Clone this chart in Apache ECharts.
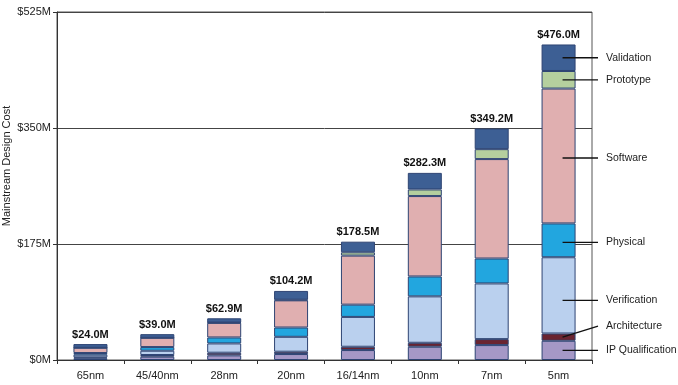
<!DOCTYPE html>
<html>
<head>
<meta charset="utf-8">
<script src="https://cdn.jsdelivr.net/npm/echarts@6/dist/echarts.min.js"></script>
<style>
html,body{margin:0;padding:0;background:#fff;}
#c{width:678px;height:385px;}
</style>
</head>
<body>
<div id="c"></div>
<script>
var categories = ['65nm', '45/40nm', '28nm', '20nm', '16/14nm', '10nm', '7nm', '5nm'];
var totals = [24.0, 39.0, 62.9, 104.2, 178.5, 282.3, 349.2, 476.0];
var ipQualification = [2.5, 5, 7, 9, 15, 20, 22.5, 29];
var architecture = [1.5, 2.5, 4, 3.5, 5, 6, 9, 11];
var verification = [4, 6.5, 14, 22.5, 45, 70, 84, 115];
var physical = [2.5, 5.5, 9, 14, 18.5, 30, 37.6, 51];
var software = [8, 14, 22, 41, 74, 121.3, 150, 203.5];
var prototype = [0, 0, 0.5, 1, 5, 10, 15, 26.5];
var validation = [5.5, 5.5, 6.4, 13.2, 16, 25, 31.1, 40];
var yTicks = [0, 175, 350, 525];

var seriesDefs = [
  {name: 'IP Qualification', data: ipQualification, color: '#A598C6'},
  {name: 'Architecture', data: architecture, color: '#6A2430'},
  {name: 'Verification', data: verification, color: '#BAD0EE'},
  {name: 'Physical', data: physical, color: '#22A6DF'},
  {name: 'Software', data: software, color: '#E0AFB0'},
  {name: 'Prototype', data: prototype, color: '#B5CF9E'},
  {name: 'Validation', data: validation, color: '#3D5F94'}
];

var FONT = 'Liberation Sans, Arial, sans-serif';
var chart = echarts.init(document.getElementById('c'), null, {renderer: 'canvas'});

var series = seriesDefs.map(function (s, i) {
  var o = {
    name: s.name,
    type: 'bar',
    stack: 'cost',
    barWidth: 34,
    data: s.data,
    itemStyle: {color: s.color, borderColor: '#2E4473', borderWidth: 1},
    emphasis: {disabled: true},
    animation: false
  };
  if (i === seriesDefs.length - 1) {
    o.label = {
      show: true,
      position: 'top',
      distance: 4,
      fontFamily: FONT,
      fontWeight: 'bold',
      fontSize: 11,
      color: '#111',
      formatter: function (p) { return '$' + totals[p.dataIndex].toFixed(1) + 'M'; }
    };
  }
  return o;
});

chart.setOption({
  animation: false,
  backgroundColor: '#fff',
  grid: {left: 57, right: 86, top: 12, bottom: 25, show: true, borderColor: '#555', borderWidth: 1},
  xAxis: {
    type: 'category',
    data: categories,
    axisLine: {lineStyle: {color: '#333', width: 1}},
    axisTick: {show: true, length: 4, lineStyle: {color: '#333'}},
    axisLabel: {color: '#222', fontFamily: FONT, fontSize: 11, margin: 10}
  },
  yAxis: {
    type: 'value',
    min: 0, max: 525, interval: 175,
    axisLine: {show: true, lineStyle: {color: '#333', width: 1}},
    axisTick: {show: true, length: 4, lineStyle: {color: '#333'}},
    splitLine: {lineStyle: {color: '#444', width: 1}},
    axisLabel: {color: '#222', fontFamily: FONT, fontSize: 11, margin: 6,
      formatter: function (v) { return '$' + v + 'M'; }}
  },
  series: series
});

// Right-side annotation labels tied to the 5nm bar segments
var last = categories.length - 1;
var labelShift = {'Software': 2, 'Physical': 2, 'Verification': 5, 'Architecture': -11};
var graphics = [];
var cum = 0;
seriesDefs.forEach(function (s) {
  var v = s.data[last];
  var mid = cum + v / 2;
  cum += v;
  var p = chart.convertToPixel({gridIndex: 0}, [last, mid]);
  var x0 = p[0] + 4;
  var y0 = p[1];
  var y1 = y0 + (labelShift[s.name] || 0);
  if (s.name !== 'Architecture') { y0 = y1; }
  var x1 = 598;
  graphics.push({
    type: 'line', silent: true, z: 100,
    shape: {x1: x0, y1: y0, x2: x1, y2: y1},
    style: {stroke: '#111', lineWidth: 1.3}
  });
  graphics.push({
    type: 'text', silent: true, z: 100,
    x: 606, y: y1,
    style: {text: s.name, fill: '#222', font: '10.5px ' + FONT, textVerticalAlign: 'middle', verticalAlign: 'middle'}
  });
});
graphics.push({
  type: 'text', silent: true, z: 100,
  x: 7, y: 166, rotation: Math.PI / 2,
  style: {text: 'Mainstream Design Cost', fill: '#222', font: '11px ' + FONT, align: 'center', textAlign: 'center', verticalAlign: 'middle', textVerticalAlign: 'middle'}
});
chart.setOption({graphic: graphics});
</script>
</body>
</html>
